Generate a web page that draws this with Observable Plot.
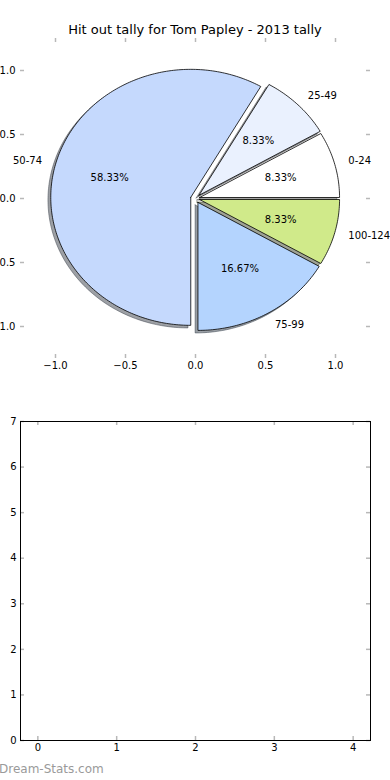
<!DOCTYPE html>
<html><head><meta charset="utf-8">
<script src="https://cdn.jsdelivr.net/npm/d3@7"></script>
<script src="https://cdn.jsdelivr.net/npm/@observablehq/plot@0.6"></script>
<style>
html,body{margin:0;padding:0;background:#fff;}
#wrap{position:relative;width:390px;height:780px;overflow:hidden;font-family:"DejaVu Sans",sans-serif;}
#title{position:absolute;left:20px;width:350px;top:21px;text-align:center;font-size:13px;line-height:18px;color:#000;white-space:nowrap;}
#pie{position:absolute;left:0;top:0;}
#bar{position:absolute;left:0;top:400px;}
#mark{position:absolute;left:-1px;top:762px;font-size:12px;font-weight:normal;color:#9a9a9a;}
</style></head><body>
<div id="wrap"><div id="pie"></div><div id="title"></div><div id="bar"></div><div id="mark"></div></div>
<script>
const chartTitle = "Hit out tally for Tom Papley - 2013 tally";
const watermark = "Dream-Stats.com";
const sliceLabels = ["0-24", "25-49", "50-74", "75-99", "100-124"];
const sliceCounts = [1, 1, 7, 2, 1];
const sliceColors = ["#ffffff", "#eaf1fe", "#c5d9fd", "#b4d4fe", "#d0ea8a"];
const sliceExplode = [0.03, 0.035, 0.035, 0.035, 0.03];
const pieTicks = [-1, -0.5, 0, 0.5, 1];
const barXTicks = [0, 1, 2, 3, 4];
const barYTicks = [0, 1, 2, 3, 4, 5, 6, 7];

document.getElementById("title").textContent = chartTitle;
document.getElementById("mark").textContent = watermark;

const total = d3.sum(sliceCounts);
const rad = Math.PI / 180;
const wedgePts = [], shadowPts = [], outer = [], inner = [];
let start = 0;
sliceCounts.forEach((v, i) => {
  const t1 = start, t2 = start + 360 * v / total; start = t2;
  const tm = (t1 + t2) / 2;
  const cx = sliceExplode[i] * Math.cos(tm * rad), cy = sliceExplode[i] * Math.sin(tm * rad);
  const pts = [[cx, cy]];
  const n = Math.max(2, Math.ceil(t2 - t1));
  for (let k = 0; k <= n; k++) {
    const t = (t1 + (t2 - t1) * k / n) * rad;
    pts.push([cx + Math.cos(t), cy + Math.sin(t)]);
  }
  pts.push([cx, cy]);
  const c = d3.rgb(sliceColors[i]);
  const sc = d3.rgb(c.r * 0.3, c.g * 0.3, c.b * 0.3).formatHex();
  pts.forEach(([x, y]) => {
    wedgePts.push({label: sliceLabels[i], x, y, color: sliceColors[i]});
    shadowPts.push({label: sliceLabels[i], x: x - 0.02, y: y - 0.02, color: sc});
  });
  const lx = cx + 1.1 * Math.cos(tm * rad), ly = cy + 1.1 * Math.sin(tm * rad);
  outer.push({label: sliceLabels[i], x: lx, y: ly});
  inner.push({text: (100 * v / total).toFixed(2) + "%", x: cx + 0.6 * Math.cos(tm * rad), y: cy + 0.6 * Math.sin(tm * rad)});
});

const tickStroke = "#b8b8b8", tickW = 1.5, tl = 4;
const fmt1 = d3.format(".1f");
const pieW = 390, pieH = 380, pm = {l: 20, r: 20, t: 38, b: 22};
const pieInnerH = pieH - pm.t - pm.b, pieInnerW = pieW - pm.l - pm.r;
const pie = Plot.plot({
  width: pieW, height: pieH,
  marginLeft: pm.l, marginRight: pm.r, marginTop: pm.t, marginBottom: pm.b,
  style: {fontFamily: "DejaVu Sans", fontSize: "10px", background: "transparent", color: "#000"},
  x: {domain: [-1.25, 1.25], axis: null},
  y: {domain: [-1.25, 1.25], axis: null},
  color: {type: "identity"},
  marks: [
    Plot.ruleX(pieTicks, {x: d => d, stroke: tickStroke, strokeWidth: tickW, insetTop: pieInnerH - tl}),
    Plot.ruleX(pieTicks, {x: d => d, stroke: tickStroke, strokeWidth: tickW, insetBottom: pieInnerH - tl}),
    Plot.ruleY(pieTicks, {y: d => d, stroke: tickStroke, strokeWidth: tickW, insetRight: pieInnerW - tl}),
    Plot.ruleY(pieTicks, {y: d => d, stroke: tickStroke, strokeWidth: tickW, insetLeft: pieInnerW - tl}),
    Plot.axisX(pieTicks, {tickSize: 0, tickPadding: 3, tickFormat: fmt1, fontSize: 10, label: null}),
    Plot.axisY(pieTicks, {tickSize: 0, tickPadding: 5, tickFormat: fmt1, fontSize: 10, label: null}),
    Plot.line(shadowPts, {x: "x", y: "y", z: "label", fill: "color", stroke: "color", fillOpacity: 0.5, strokeOpacity: 0.5, strokeWidth: 1, curve: "linear"}),
    Plot.line(wedgePts, {x: "x", y: "y", z: "label", fill: "color", stroke: "black", strokeWidth: 0.8, curve: "linear"}),
    Plot.text(outer.filter(d => d.x > 0), {x: "x", y: "y", text: "label", textAnchor: "start", fontSize: 10, fill: "black"}),
    Plot.text(outer.filter(d => d.x <= 0), {x: "x", y: "y", text: "label", textAnchor: "end", fontSize: 10, fill: "black"}),
    Plot.text(inner, {x: "x", y: "y", text: "text", fontSize: 10, fill: "black"})
  ]
});
document.getElementById("pie").appendChild(pie);

const barW = 390, barH = 360, bm = {l: 20, r: 20, t: 21, b: 20};
const barInnerH = barH - bm.t - bm.b, barInnerW = barW - bm.l - bm.r;
const bar = Plot.plot({
  width: barW, height: barH,
  marginLeft: bm.l, marginRight: bm.r, marginTop: bm.t, marginBottom: bm.b,
  style: {fontFamily: "DejaVu Sans", fontSize: "10px", background: "transparent", color: "#000"},
  x: {domain: [-0.22, 4.22], axis: null},
  y: {domain: [0, 7], axis: null},
  marks: [
    Plot.ruleX(barXTicks, {x: d => d, stroke: tickStroke, strokeWidth: tickW, insetTop: barInnerH - tl}),
    Plot.ruleX(barXTicks, {x: d => d, stroke: tickStroke, strokeWidth: tickW, insetBottom: barInnerH - tl}),
    Plot.ruleY(barYTicks, {y: d => d, stroke: tickStroke, strokeWidth: tickW, insetRight: barInnerW - tl}),
    Plot.ruleY(barYTicks, {y: d => d, stroke: tickStroke, strokeWidth: tickW, insetLeft: barInnerW - tl}),
    Plot.frame({stroke: "black", strokeWidth: 1}),
    Plot.axisX(barXTicks, {tickSize: 0, tickPadding: 3, tickFormat: d3.format("d"), fontSize: 10, label: null}),
    Plot.axisY(barYTicks, {tickSize: 0, tickPadding: 4, tickFormat: d3.format("d"), fontSize: 10, label: null})
  ]
});
document.getElementById("bar").appendChild(bar);
</script>
</body></html>
